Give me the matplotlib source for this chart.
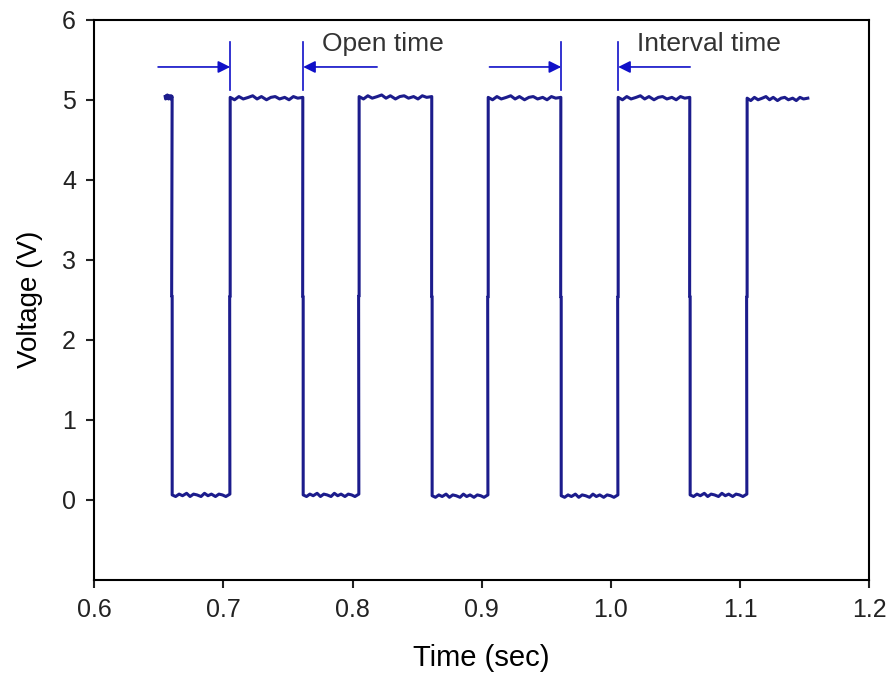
import matplotlib
matplotlib.use("Agg")
import matplotlib.pyplot as plt

plt.rcParams['font.family'] = ['Liberation Sans', 'DejaVu Sans']

# Data (time in sec, voltage in V)
edge_times = [0.6604, 0.7053, 0.7618, 0.8051, 0.8616, 0.9050, 0.9615, 1.0056, 1.0613, 1.1054]
start_time = 0.6550
end_time = 1.1526
high_level = [5.03, 5.02, 5.03, 5.02, 5.02, 5.01]
low_level = [0.06, 0.06, 0.05, 0.05, 0.06]
# small ripple read on each plateau (relative positions 0..1, offsets in V)
ripple_pos = [0.0, 0.06, 0.12, 0.18, 0.25, 0.31, 0.37, 0.43, 0.5, 0.56, 0.62, 0.68,
              0.75, 0.81, 0.87, 0.93, 1.0]
ripple_high = [0.01, -0.02, 0.02, -0.01, 0.01, 0.03, -0.01, 0.02, -0.02, 0.01, 0.02,
               -0.01, 0.01, -0.02, 0.02, 0.0, 0.01]
ripple_low = [0.0, -0.02, 0.01, -0.01, 0.02, -0.02, 0.01, 0.0, -0.02, 0.02, -0.01,
              0.01, -0.02, 0.01, 0.0, -0.02, 0.01]

annot_arrows = [(0.6495, 0.7053), (0.8190, 0.7618), (0.9060, 0.9615), (1.0613, 1.0056)]
marker_lines = [0.7053, 0.7618, 0.9615, 1.0056]
annot_texts = ["Open time", "Interval time"]
annot_text_x = [0.8237, 1.0760]

# build waveform
bounds = [start_time] + edge_times + [end_time]
xs, ys = [], []
for i in range(len(bounds) - 1):
    a, b = bounds[i], bounds[i + 1]
    if i % 2 == 0:
        lvl, rip = high_level[i // 2], ripple_high
    else:
        lvl, rip = low_level[i // 2], ripple_low
    for p, r in zip(ripple_pos, rip):
        xs.append(a + p * (b - a) * 0.995)
        ys.append(lvl + r)
    if i < len(bounds) - 2:
        nxt = low_level[i // 2] if i % 2 == 0 else high_level[(i + 1) // 2]
        xs.append(b - 0.0004); ys.append((lvl + nxt) / 2)
        xs.append(b); ys.append((lvl + nxt) / 2)
        xs.append(b); ys.append(nxt)

fig = plt.figure(figsize=(8.88, 6.82), dpi=100)
ax = fig.add_axes([0.106, 0.150, 0.873, 0.821])
ax.plot(xs, ys, color='#1c1c8c', lw=2.2)

ax.set_xlim(0.6, 1.2)
ax.set_ylim(-1, 6)
ax.set_xticks([0.6, 0.7, 0.8, 0.9, 1.0, 1.1, 1.2])
ax.set_xticklabels(['0.6', '0.7', '0.8', '0.9', '1.0', '1.1', '1.2'])
ax.set_yticks([0, 1, 2, 3, 4, 5, 6])
ax.tick_params(direction='out', length=6, width=1.5, labelsize=18, colors='#222222', pad=7)
for s in ax.spines.values():
    s.set_linewidth(1.5)
ax.set_xlabel('Time (sec)', fontsize=21, labelpad=16)
ax.set_ylabel('Voltage (V)', fontsize=20, labelpad=14)

arrow_color = '#1010c8'
for (x0, x1) in annot_arrows:
    ax.annotate('', xy=(x1, 5.41), xytext=(x0, 5.41),
                arrowprops=dict(arrowstyle='-|>', color=arrow_color, lw=1.2,
                                mutation_scale=18, shrinkA=0, shrinkB=0))
for xm in marker_lines:
    ax.plot([xm, xm], [5.12, 5.72], color=arrow_color, lw=1.2)
for t, xt in zip(annot_texts, annot_text_x):
    ax.text(xt, 5.70, t, fontsize=19, color='#333333', ha='center', va='center')

fig.savefig('out.png', dpi=100)
